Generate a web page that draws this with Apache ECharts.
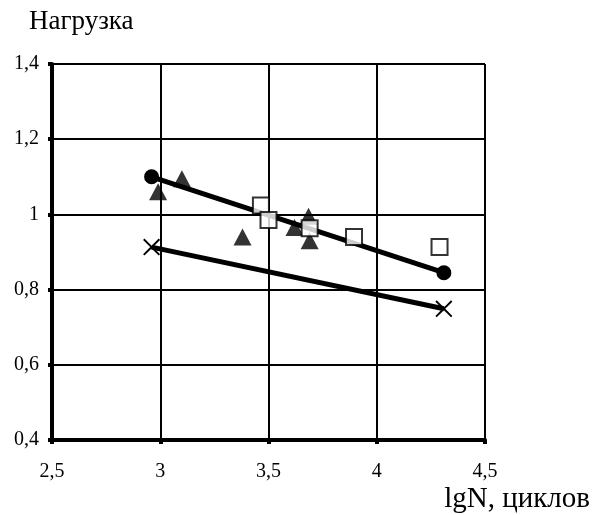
<!DOCTYPE html>
<html>
<head>
<meta charset="utf-8">
<script src="https://cdn.jsdelivr.net/npm/echarts@6/dist/echarts.min.js"></script>
<style>
  html, body { margin: 0; padding: 0; background: #fff; }
  #chart { width: 592px; height: 515px; }
</style>
</head>
<body>
<div id="chart"></div>
<script>
// Fitted regression lines (end points) for the two specimen groups
const circleX = [2.96, 4.31];
const circleY = [1.10, 0.845];
const crossX = [2.96, 4.31];
const crossY = [0.913, 0.749];

// Individual test results
const triangleX = [2.99, 3.10, 3.38, 3.62, 3.685, 3.69];
const triangleY = [1.06, 1.095, 0.94, 0.965, 0.995, 0.93];
const squareX = [3.465, 3.50, 3.69, 3.895, 4.29];
const squareY = [1.024, 0.985, 0.963, 0.94, 0.913];

// Axis ranges and tick steps
const xRange = [2.5, 4.5], xStep = 0.5;
const yRange = [0.4, 1.4], yStep = 0.2;

const yTitle = 'Нагрузка';
const xTitle = 'lgN, циклов';

const zip = (xs, ys) => xs.map((x, i) => [x, ys[i]]);
const comma = v => String(+v.toFixed(2)).replace('.', ',');
const FONT = '"Liberation Serif", "DejaVu Serif", serif';

const crossPath = 'path://M0,8L8,0L50,42L92,0L100,8L58,50L100,92L92,100L50,58L8,100L0,92L42,50Z';

const chart = echarts.init(document.getElementById('chart'), null, { renderer: 'canvas' });

const axisCommon = {
  axisLine: { show: true, onZero: false, lineStyle: { color: '#000', width: 4 } },
  axisTick: { show: true, inside: false, length: 4, lineStyle: { color: '#000', width: 4 } },
  splitLine: { show: true, lineStyle: { color: '#000', width: 2 } },
  axisLabel: { color: '#000', fontFamily: FONT, fontSize: 20, formatter: comma }
};

chart.setOption({
  animation: false,
  backgroundColor: '#fff',
  grid: { left: 52, right: 107, top: 64, bottom: 75, containLabel: false },
  xAxis: Object.assign({
    type: 'value', min: xRange[0], max: xRange[1], interval: xStep
  }, axisCommon, { axisLabel: Object.assign({}, axisCommon.axisLabel, { margin: 22 }) }),
  yAxis: Object.assign({
    type: 'value', min: yRange[0], max: yRange[1], interval: yStep
  }, axisCommon, { axisLabel: Object.assign({}, axisCommon.axisLabel, { margin: 13 }) }),
  graphic: [
    { type: 'text', left: 29, top: 8,
      style: { text: yTitle, font: '27px ' + FONT, fill: '#000' } },
    { type: 'text', right: 2, top: 485,
      style: { text: xTitle, font: '29px ' + FONT, fill: '#000' } }
  ],
  series: [
    {
      type: 'line', data: zip(crossX, crossY),
      lineStyle: { color: '#000', width: 5 },
      symbol: crossPath, symbolSize: 17, showSymbol: true,
      itemStyle: { color: '#000' }, z: 3
    },
    {
      type: 'line', data: zip(circleX, circleY),
      lineStyle: { color: '#000', width: 5 },
      symbol: 'circle', symbolSize: 15, showSymbol: true,
      itemStyle: { color: '#000' }, z: 3
    },
    {
      type: 'scatter', data: zip(triangleX, triangleY),
      symbol: 'triangle', symbolSize: [18, 17],
      itemStyle: { color: '#000' }, z: 4
    },
    {
      type: 'scatter', data: zip(squareX, squareY),
      symbol: 'rect', symbolSize: 16,
      itemStyle: { color: '#fff', borderColor: '#000', borderWidth: 2 }, z: 5
    }
  ]
});
</script>
</body>
</html>
